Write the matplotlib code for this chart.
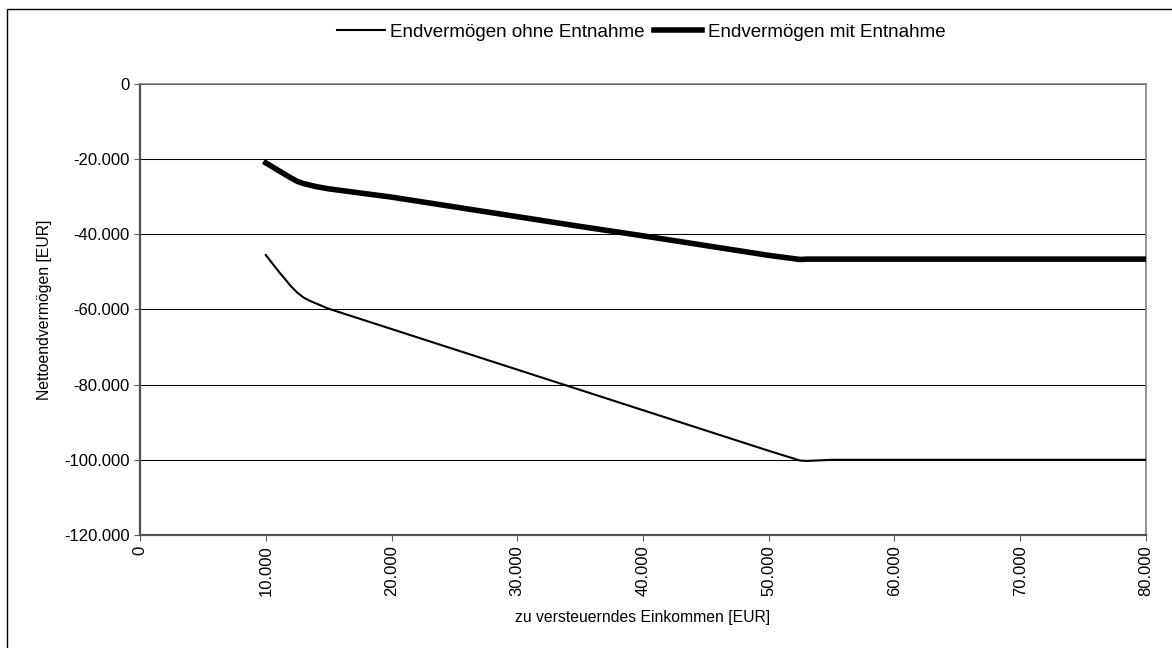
import numpy as np
import matplotlib
matplotlib.use("Agg")
import matplotlib.pyplot as plt
from matplotlib.ticker import FuncFormatter, MultipleLocator
from matplotlib.patches import Rectangle

plt.rcParams['font.family'] = ['Liberation Sans', 'DejaVu Sans']

# Einkommen und Endvermögen
einkommen = [10000, 11000, 12000, 12500, 13000, 13500, 14000, 15000, 20000, 25000, 30000,
             35000, 40000, 45000, 50000, 52500, 53000, 55000, 60000, 65000, 70000,
             75000, 80000]
ohne_entnahme = [-45500, -49800, -53800, -55500, -56800, -57700, -58400, -59800, -65200,
                 -70600, -76000, -81400, -86800, -92200, -97600, -100200, -100300,
                 -100000, -100000, -100000, -100000, -100000, -100000]
mit_entnahme = [-21000, -23000, -25000, -25900, -26500, -26900, -27300, -27900, -30100,
                -32700, -35300, -37900, -40400, -43000, -45600, -46700, -46600, -46600,
                -46600, -46600, -46600, -46600, -46600]

labels = ['Endvermögen ohne Entnahme', 'Endvermögen mit Entnahme']


def de_fmt(v, pos):
    return '{:,.0f}'.format(v).replace(',', '.')


fig = plt.figure(figsize=(11.72, 6.48), dpi=100)
ax = fig.add_axes([0.1195, 0.1744, 0.8583, 0.696])

# Rahmen um die ganze Grafik
fig.patches.append(Rectangle((7 / 1172, -0.05), 1.1, 1 - 9 / 648 + 0.05,
                             transform=fig.transFigure, fill=False,
                             edgecolor='black', linewidth=1))

ax.plot(einkommen, ohne_entnahme, color='black', linewidth=1.5, label=labels[0], zorder=3)
ax.plot(einkommen, mit_entnahme, color='black', linewidth=4, label=labels[1], zorder=3)

ax.set_xlim(0, 80000)
ax.set_ylim(-120000, 0)
ax.xaxis.set_major_locator(MultipleLocator(10000))
ax.yaxis.set_major_locator(MultipleLocator(20000))
ax.xaxis.set_major_formatter(FuncFormatter(de_fmt))
ax.yaxis.set_major_formatter(FuncFormatter(de_fmt))
ax.tick_params(axis='x', labelrotation=90, labelsize=12, length=4, direction='out', color='#606060')
ax.tick_params(axis='y', labelsize=12, length=4, direction='out', color='#606060')

ax.grid(axis='y', color='black', linewidth=0.75, zorder=1)
for side in ['left', 'bottom', 'right', 'top']:
    ax.spines[side].set_color('#808080')
ax.spines['left'].set_linewidth(1.6)
ax.spines['bottom'].set_linewidth(1.6)
ax.spines['left'].set_color('#505050')
ax.spines['bottom'].set_color('#505050')
ax.spines['right'].set_linewidth(1.2)
ax.spines['top'].set_linewidth(1.2)

ax.set_xlabel('zu versteuerndes Einkommen [EUR]', fontsize=11.3, labelpad=10)
ax.set_ylabel('Nettoendvermögen [EUR]', fontsize=11.3, labelpad=9)

fig.legend(loc='center', bbox_to_anchor=(0.547, 0.950), ncol=2, frameon=False,
           fontsize=13.5, handlelength=2.56, handletextpad=0.27, columnspacing=0.53)

fig.savefig('out.png', dpi=100)
